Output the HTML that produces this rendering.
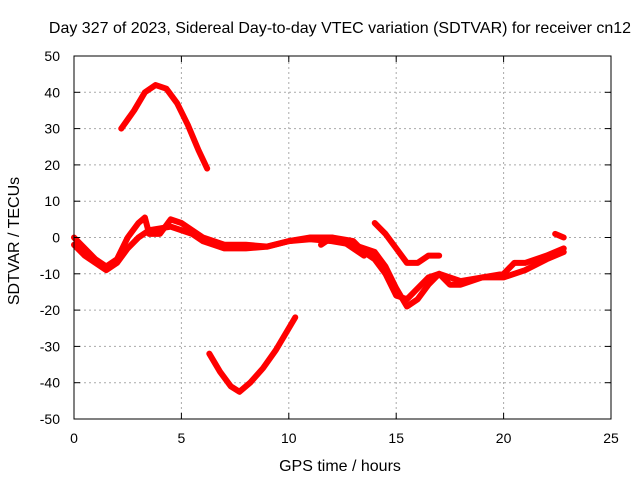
<!DOCTYPE html>
<html><head><meta charset="utf-8"><style>
body{margin:0;background:#fff}
svg text{font-family:"Liberation Sans",sans-serif;font-size:14px;fill:#000}
svg text.big{font-size:16px}
</style></head><body>
<svg width="640" height="480">
<rect width="640" height="480" fill="#fff"/>
<g id="grid"></g><g id="series"></g><g id="axes"></g>
<text class="big" x="340" y="33" text-anchor="middle">Day 327 of 2023, Sidereal Day-to-day VTEC variation (SDTVAR) for receiver cn12</text>
<text class="big" x="340" y="471" text-anchor="middle">GPS time / hours</text>
<text class="big" transform="translate(19,241) rotate(-90)" text-anchor="middle">SDTVAR / TECUs</text>
</svg>
<script>
const xTicks=[0,5,10,15,20,25];
const yTicks=[-50,-40,-30,-20,-10,0,10,20,30,40,50];
const arcUpper=[[2.2,30],[2.8,35],[3.3,40],[3.8,42],[4.3,41],[4.8,37],[5.3,31],[5.8,24],[6.2,19]];
const arcLower=[[6.3,-32],[6.8,-37],[7.3,-41],[7.7,-42.5],[8.2,-40],[8.8,-36],[9.4,-31],[10.0,-25],[10.3,-22]];
const bandA=[[0,-2],[0.5,-5],[1,-7],[1.5,-9],[2,-7],[2.5,-3],[3,0],[3.5,2],[4,2.5],[4.5,3],[5,2],[5.5,1],[6,-1],[6.5,-2],[7,-3],[8,-3],[9,-2.5],[10,-1],[11,-0.5],[12,-1],[13,-2],[14,-4],[14.5,-8],[15,-14],[15.5,-19],[16,-17],[16.5,-13],[17,-10],[17.5,-11],[18,-12],[19,-11],[20,-11],[21,-9],[22,-6],[22.8,-4]];
const bandB=[[0,0],[0.5,-3],[1,-6],[1.5,-8],[2,-6],[2.5,0],[3,4],[3.3,5.5],[3.5,1],[4,1],[4.5,5],[5,4],[5.5,2],[6,0],[7,-2],[8,-2],[9,-2.5],[10,-1],[11,0],[12,0],[13,-1],[13.5,-4],[14,-6],[14.5,-10],[15,-16],[15.5,-17],[16,-14],[16.5,-11],[17,-10],[17.5,-13],[18,-13],[19,-11],[20,-10],[20.5,-7],[21,-7],[22,-5],[22.8,-3]];
const segC=[[14,4],[14.5,1],[15,-3],[15.5,-7],[16,-7],[16.5,-5],[17,-5]];
const segD=[[11.5,-2],[12,0],[12.5,-1],[13,-3],[13.5,-5]];
const segE=[[22.4,1],[22.8,0]];
const X0=74,X1=611,Y0=419,Y1=56;
const sx=v=>X0+(v-0)/25*(X1-X0);
const sy=v=>Y0-(v+50)/100*(Y0-Y1);
const NS='http://www.w3.org/2000/svg';
function mk(t,a,p){const e=document.createElementNS(NS,t);for(const k in a)e.setAttribute(k,a[k]);p.appendChild(e);return e;}
const grid=document.getElementById('grid'),axes=document.getElementById('axes'),ser=document.getElementById('series');
xTicks.forEach(t=>{
 if(t>0&&t<25){const g=mk('line',{x1:sx(t),x2:sx(t),y1:Y0,y2:Y1,stroke:'#aaa','stroke-dasharray':'2,3'},grid);
 
 }
 mk('line',{x1:sx(t),x2:sx(t),y1:Y0,y2:Y0-6,stroke:'#000'},axes);
 mk('line',{x1:sx(t),x2:sx(t),y1:Y1,y2:Y1+6,stroke:'#000'},axes);
 const l=mk('text',{x:sx(t),y:Y0+24,'text-anchor':'middle'},axes);l.textContent=t;
 
 
});
yTicks.forEach(t=>{
 if(t>-50&&t<50){const g=mk('line',{x1:X0,x2:X1,y1:sy(t),y2:sy(t),stroke:'#aaa','stroke-dasharray':'2,3'},grid);
 
 }
 mk('line',{x1:X0,x2:X0+6,y1:sy(t),y2:sy(t),stroke:'#000'},axes);
 mk('line',{x1:X1,x2:X1-6,y1:sy(t),y2:sy(t),stroke:'#000'},axes);
 const l=mk('text',{x:X0-14,y:sy(t)+5,'text-anchor':'end'},axes);l.textContent=t;
 
 
});
const fr=mk('rect',{x:X0,y:Y1,width:X1-X0,height:Y0-Y1,fill:'none',stroke:'#000'},axes);


[['arc-upper',arcUpper],['arc-lower',arcLower],['band-a',bandA],['band-b',bandB],['segment-c',segC],['segment-d',segD],['segment-e',segE]].forEach(([n,d])=>{
 const p=mk('polyline',{points:d.map(q=>sx(q[0])+','+sy(q[1])).join(' '),fill:'none',stroke:'#f00','stroke-width':6,'stroke-linejoin':'round','stroke-linecap':'round'},ser);
 
 
});
</script>
</body></html>
